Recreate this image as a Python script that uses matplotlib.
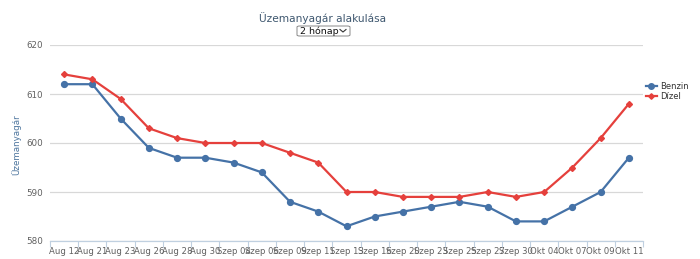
import matplotlib
matplotlib.use("Agg")
import matplotlib.pyplot as plt
from matplotlib.lines import Line2D
from matplotlib.patches import FancyBboxPatch

dates = ["Aug 12", "Aug 21", "Aug 23", "Aug 26", "Aug 28", "Aug 30", "Szep 04", "Szep 06",
         "Szep 09", "Szep 11", "Szep 13", "Szep 16", "Szep 20", "Szep 23", "Szep 25",
         "Szep 27", "Szep 30", "Okt 04", "Okt 07", "Okt 09", "Okt 11"]
benzin = [612, 612, 605, 599, 597, 597, 596, 594, 588, 586, 583, 585, 586, 587, 588,
          587, 584, 584, 587, 590, 597]
dizel = [614, 613, 609, 603, 601, 600, 600, 600, 598, 596, 590, 590, 589, 589, 589,
         590, 589, 590, 595, 601, 608]
yticks = [580, 590, 600, 610, 620]

c_benzin = "#4572A7"
c_dizel = "#E5403C"

plt.rcParams['font.family'] = ['DejaVu Sans']
fig = plt.figure(figsize=(7.0, 2.59), dpi=100)
ax = fig.add_axes([50/700, 1-241/259, (643-50)/700, (241-45)/259])

x = list(range(len(dates)))
ax.plot(x, benzin, color=c_benzin, lw=1.6, marker='o', ms=4.2, zorder=3)
ax.plot(x, dizel, color=c_dizel, lw=1.6, marker='D', ms=3.0, zorder=3)

ax.set_xlim(-0.5, len(dates)-0.5)
ax.set_ylim(580, 620)
ax.set_yticks(yticks)
ax.set_yticklabels([str(v) for v in yticks], fontsize=6.3, color="#606060")
ax.yaxis.grid(True, color="#D8D8D8", lw=0.9)
ax.set_axisbelow(True)
ax.tick_params(axis='y', length=0, pad=5)

ax.set_xticks(x)
ax.set_xticklabels(dates, fontsize=6.1, color="#606060")
ax.set_xticks([i - 0.5 for i in range(len(dates)+1)], minor=True)
ax.tick_params(axis='x', which='major', length=0, pad=4)
ax.tick_params(axis='x', which='minor', length=4, color="#C0D0E0", width=0.8)

for s in ['top', 'right', 'left']:
    ax.spines[s].set_visible(False)
ax.spines['bottom'].set_color("#C0D0E0")
ax.spines['bottom'].set_linewidth(0.9)

fig.text(16/700, 1-145/259, "Üzemanyagár", rotation=90, ha='center', va='center',
         fontsize=6.3, color="#4D759E")

fig.text(323/700, 1-18/259, "Üzemanyagár alakulása", ha='center', va='center',
         fontsize=7.6, color="#3E576F")
# dropdown
fig.text(300/700, 1-31/259, "2 hónap", ha='left', va='center', fontsize=6.8, color="#111111")
box = FancyBboxPatch((297/700, 1-36/259), 53/700, 10/259, boxstyle="round,pad=0,rounding_size=0.004",
                     transform=fig.transFigure, fill=False, ec="#888888", lw=0.7)
fig.patches.append(box)
fig.lines.append(Line2D([340/700, 343/700, 346/700], [1-29.5/259, 1-32/259, 1-29.5/259],
                        transform=fig.transFigure, color="#333333", lw=0.8))

handles = [Line2D([], [], color=c_benzin, lw=1.6, marker='o', ms=4.0),
           Line2D([], [], color=c_dizel, lw=1.6, marker='D', ms=2.8)]
fig.legend(handles, ["Benzin", "Dízel"], loc='upper left', bbox_to_anchor=(644/700, 1-80/259),
           frameon=False, fontsize=6.0, handlelength=1.3, handletextpad=0.4,
           labelspacing=0.15, labelcolor="#333333", borderpad=0.2, borderaxespad=0)

fig.savefig("out.png", dpi=100)
